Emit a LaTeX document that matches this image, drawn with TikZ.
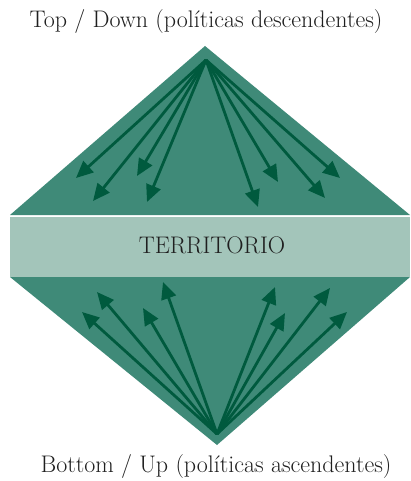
\documentclass[tikz,border=0pt]{standalone}
\usetikzlibrary{arrows.meta}
\definecolor{pyramidGreen}{HTML}{3F8A78}
\definecolor{bandGreen}{HTML}{A3C5BA}
\definecolor{arrowGreen}{HTML}{005A3E}
\begin{document}
\begin{tikzpicture}[
  x=1pt,
  y=-1pt,
  flow/.style={draw=arrowGreen, line width=2.8pt, -{Triangle[length=17pt,width=15pt]}},
  caption/.style={font=\fontsize{24}{28}\selectfont, text=black!88, inner sep=0pt}
]
\useasboundingbox (0,0) rectangle (410,481);

% Upper and lower triangles, with the band in between
\fill[pyramidGreen] (205,46) -- (410,215) -- (10,215) -- cycle;
\fill[pyramidGreen] (10,277) -- (410,277) -- (217,445) -- cycle;
\fill[bandGreen] (10,217) rectangle (410,277);
\node[caption] (territorio) at (212,245) {TERRITORIO};

% Captions
\node[caption] (topdown) at (206,22) {Top / Down (políticas descendentes)};
\node[caption] (bottomup) at (216,467) {Bottom / Up (políticas ascendentes)};

% Descending arrows
\coordinate (src) at (206,60);
\foreach \i/\x/\y in {1/76/178, 2/93/201, 3/137/176, 4/147/202, 5/258/207, 6/278/182, 7/325/198, 8/340/178} {
  \coordinate (d\i) at (\x,\y);
  \draw[flow] (src) -- (d\i);
}

% Ascending arrows
\coordinate (base) at (217,434);
\foreach \i/\x/\y in {1/82/312, 2/97/292, 3/143/308, 4/163/282, 5/275/287, 6/285/313, 7/330/288, 8/347/312} {
  \coordinate (u\i) at (\x,\y);
  \draw[flow] (base) -- (u\i);
}

\end{tikzpicture}
\end{document}
